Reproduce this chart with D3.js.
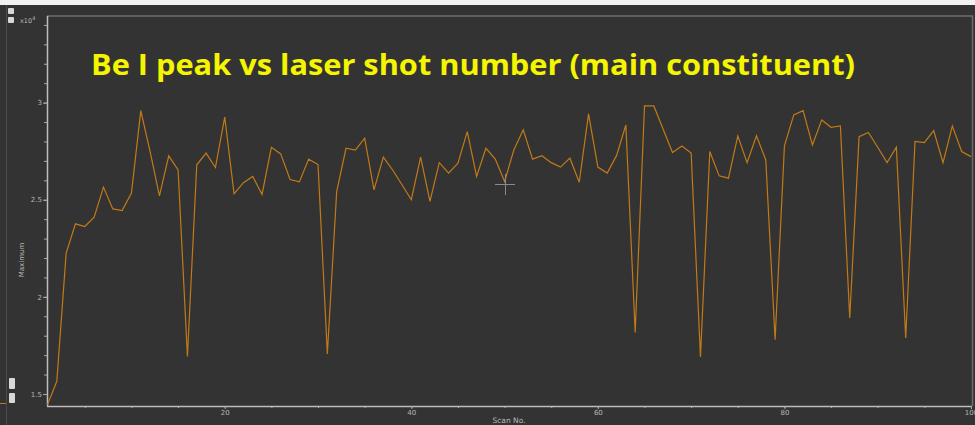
<!DOCTYPE html>
<html>
<head>
<meta charset="utf-8">
<script src="https://cdn.jsdelivr.net/npm/d3@7"></script>
<style>
  html, body { margin: 0; padding: 0; background: #333333; }
  svg { display: block; }
</style>
</head>
<body>
<svg id="canvas" width="975" height="425"></svg>
<script>
// scan numbers 1..100 and Be I peak maximum (x10^4)
var scans = d3.range(1, 101);
var maximum = [
  1.445, 1.565, 2.225, 2.376, 2.362, 2.41, 2.565, 2.453, 2.444, 2.534,
  2.959, 2.748, 2.52, 2.726, 2.654, 1.693, 2.68, 2.74, 2.666, 2.925,
  2.53, 2.588, 2.62, 2.527, 2.77, 2.736, 2.604, 2.592, 2.709, 2.681,
  1.706, 2.542, 2.765, 2.755, 2.817, 2.551, 2.719, 2.653, 2.577, 2.5,
  2.719, 2.491, 2.691, 2.637, 2.688, 2.851, 2.62, 2.765, 2.709, 2.594,
  2.757, 2.86, 2.709, 2.727, 2.691, 2.668, 2.714, 2.59, 2.942, 2.668,
  2.637, 2.727, 2.885, 1.817, 2.983, 2.983, 2.863, 2.743, 2.777, 2.74,
  1.69, 2.748, 2.623, 2.611, 2.829, 2.691, 2.829, 2.705, 1.779, 2.777,
  2.937, 2.959, 2.782, 2.911, 2.873, 2.88, 1.891, 2.825, 2.846, 2.77,
  2.691, 2.77, 1.788, 2.8, 2.794, 2.856, 2.691, 2.88, 2.748, 2.722
];
var xMajorTicks = [20, 40, 60, 80, 100];
var xMinorTicks = d3.range(5, 101, 5);
var yMajorTicks = [1.5, 2, 2.5, 3];
var yMinorTicks = d3.range(15, 35).map(function(d){ return d / 10; });
var title = "Be I peak vs laser shot number (main constituent)";

var canvas = d3.select("#canvas");
var plotLeft = 47, plotRight = 972, plotTop = 16, plotBottom = 406;

var x = d3.scaleLinear().domain([1, 100]).range([47.5, 971]);
var y = d3.scaleLinear().domain([1.438, 3.446]).range([plotBottom, plotTop]);

// window chrome
canvas.append("rect").attr("x", 0).attr("y", 0).attr("width", 975).attr("height", 5).style("fill", "#f2f2f2");
canvas.append("line").attr("x1", 6.5).attr("x2", 6.5).attr("y1", 5).attr("y2", 425)
  .style("stroke", "#4a4a4a").style("stroke-width", 1);
canvas.append("line").attr("x1", 0).attr("x2", 6).attr("y1", 403.5).attr("y2", 403.5)
  .style("stroke", "#c27a17").style("stroke-width", 1);
[[8, 8, 6, 6], [8, 17, 6, 6], [9, 378, 6, 11], [9, 393, 6, 10]].forEach(function(b){
  canvas.append("rect").attr("x", b[0]).attr("y", b[1]).attr("width", b[2]).attr("height", b[3])
    .attr("rx", 1).style("fill", "#d8d8d8");
});

// frame
canvas.append("path")
  .attr("d", "M" + plotLeft + "," + plotTop + "H" + (plotRight + 0.5) + "V" + plotBottom)
  .style("fill", "none").style("stroke", "#6e6e6e").style("stroke-width", 1.5);

// y axis
var yAxisMinor = d3.axisLeft(y).tickValues(yMinorTicks).tickSize(3).tickFormat("");
var yAxis = d3.axisLeft(y).tickValues(yMajorTicks).tickSize(4).tickPadding(1)
  .tickFormat(function(d){ return String(d); });
canvas.append("g").attr("transform", "translate(" + plotLeft + ",0)").call(yAxisMinor)
  .call(function(g){ g.select(".domain").remove(); });
var gy = canvas.append("g").attr("transform", "translate(" + plotLeft + ",0)").call(yAxis);
gy.select(".domain").attr("d", "M0.5," + plotTop + "V" + plotBottom);

// x axis
var xAxisMinor = d3.axisBottom(x).tickValues(xMinorTicks).tickSize(2).tickFormat("");
var xAxis = d3.axisBottom(x).tickValues(xMajorTicks).tickSize(3).tickPadding(1)
  .tickFormat(d3.format("d"));
canvas.append("g").attr("transform", "translate(0," + plotBottom + ")").call(xAxisMinor)
  .call(function(g){ g.select(".domain").remove(); });
var gx = canvas.append("g").attr("transform", "translate(0," + plotBottom + ")").call(xAxis);
gx.select(".domain").attr("d", "M" + plotLeft + ",0.5H" + plotRight);

canvas.selectAll(".domain").style("stroke", "#bdbdbd").style("stroke-width", 1.5);
canvas.selectAll(".tick line").style("stroke", "#a8a8a8");
canvas.selectAll(".tick text").style("fill", "#b8b8b8")
  .style("font-family", "DejaVu Sans").style("font-size", "7px");

// axis titles
canvas.append("text").attr("transform", "translate(24,260) rotate(-90)")
  .attr("text-anchor", "middle").text("Maximum")
  .style("fill", "#b8b8b8").style("font-family", "DejaVu Sans").style("font-size", "7px");
canvas.append("text").attr("x", 509).attr("y", 423).attr("text-anchor", "middle").text("Scan No.")
  .style("fill", "#b8b8b8").style("font-family", "DejaVu Sans").style("font-size", "7.5px");
var exp = canvas.append("text").attr("x", 20).attr("y", 23)
  .style("fill", "#b8b8b8").style("font-family", "DejaVu Sans").style("font-size", "6.5px");
exp.append("tspan").text("x10");
exp.append("tspan").attr("dy", -3).style("font-size", "5px").text("4");

// data line
var line = d3.line()
  .x(function(d, i){ return x(scans[i]); })
  .y(function(d){ return y(d); });
canvas.append("path").datum(maximum)
  .attr("d", line)
  .style("fill", "none").style("stroke", "#c27a17").style("stroke-width", 1.2)
  .style("stroke-linejoin", "miter");

// cursor cross
canvas.append("path").attr("d", "M495,184.5H515M505.5,174V195")
  .style("stroke", "#8a8a8a").style("stroke-width", 1);

// title
canvas.append("text").attr("x", 91).attr("y", 75)
  .text(title)
  .style("fill", "#f5f500").style("font-family", "Open Sans").style("font-weight", "bold")
  .style("font-size", "29px")
  .attr("textLength", 764).attr("lengthAdjust", "spacingAndGlyphs");
</script>
</body>
</html>
